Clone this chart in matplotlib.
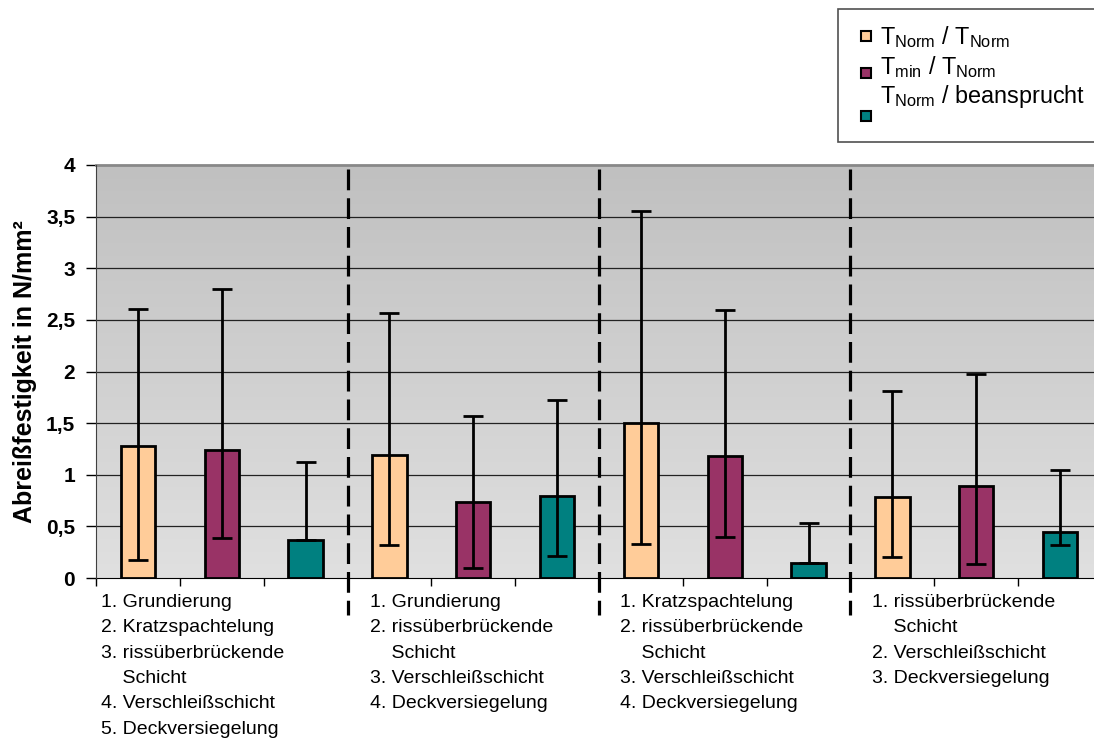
import matplotlib
matplotlib.use("Agg")
import matplotlib.pyplot as plt
import numpy as np
from matplotlib.patches import Rectangle

plt.rcParams['font.family'] = ['Liberation Sans', 'DejaVu Sans']
plt.rcParams['mathtext.fontset'] = 'custom'
plt.rcParams['mathtext.rm'] = 'Liberation Sans'
plt.rcParams['mathtext.it'] = 'Liberation Sans:italic'
plt.rcParams['mathtext.bf'] = 'Liberation Sans:bold'

# ---- data ----
series_names = [r"T$_{\mathrm{Norm}}$ / T$_{\mathrm{Norm}}$",
                r"T$_{\mathrm{min}}$ / T$_{\mathrm{Norm}}$",
                r"T$_{\mathrm{Norm}}$ / beansprucht"]
series_colors = ["#FFCC99", "#993366", "#008080"]
# one bar per category, series cycles 0,1,2 in each group
bar_series = [0, 1, 2, 0, 1, 2, 0, 1, 2, 0, 1, 2]
means = [1.28, 1.24, 0.37, 1.19, 0.74, 0.79, 1.50, 1.18, 0.15, 0.78, 0.89, 0.45]
upper = [2.61, 2.80, 1.12, 2.57, 1.57, 1.72, 3.55, 2.60, 0.53, 1.81, 1.98, 1.05]
lower = [0.17, 0.39, 0.37, 0.32, 0.10, 0.21, 0.33, 0.40, 0.15, 0.20, 0.14, 0.32]
group_labels = [
    "1. Grundierung\n2. Kratzspachtelung\n3. rissüberbrückende\n    Schicht\n4. Verschleißschicht\n5. Deckversiegelung",
    "1. Grundierung\n2. rissüberbrückende\n    Schicht\n3. Verschleißschicht\n4. Deckversiegelung",
    "1. Kratzspachtelung\n2. rissüberbrückende\n    Schicht\n3. Verschleißschicht\n4. Deckversiegelung",
    "1. rissüberbrückende\n    Schicht\n2. Verschleißschicht\n3. Deckversiegelung",
]
yticks = [0, 0.5, 1, 1.5, 2, 2.5, 3, 3.5, 4]
ytick_labels = ["0", "0,5", "1", "1,5", "2", "2,5", "3", "3,5", "4"]
ylabel = "Abreißfestigkeit in N/mm²"

W, H = 1094, 744
fig = plt.figure(figsize=(W / 100, H / 100), dpi=100)
ax_left, ax_right, ax_top, ax_bot = 96, 1102, 165, 578
ax = fig.add_axes([ax_left / W, (H - ax_bot) / H, (ax_right - ax_left) / W, (ax_bot - ax_top) / H])

n = len(means)
x = np.arange(n)
ax.set_xlim(-0.5, n - 0.5)
ax.set_ylim(0, 4)

# gradient background
grad = np.linspace(0, 1, 256).reshape(-1, 1)
ax.imshow(grad, extent=[-0.5, n - 0.5, 0, 4], origin='lower', aspect='auto',
          cmap=matplotlib.colors.LinearSegmentedColormap.from_list('g', ['#e0e0e0', '#c0c0c0']),
          zorder=0)

for yv in yticks[1:-1]:
    ax.axhline(yv, color='#222222', lw=0.9, zorder=1)

cols = [series_colors[s] for s in bar_series]
ax.bar(x, means, width=0.41, color=cols, edgecolor='black', linewidth=2.0, zorder=3)
m = np.array(means)
yerr = np.vstack([m - np.array(lower), np.array(upper) - m])
ax.errorbar(x, m, yerr=yerr, fmt='none', ecolor='black', elinewidth=2.0,
            capsize=7.5, capthick=2.0, zorder=4)

# group separators
for b in [2.5, 5.5, 8.5]:
    ax.plot([b, b], [3.96, -0.36], color='black', lw=2.3, dashes=(6.5, 2.5),
            clip_on=False, zorder=5)

ax.set_yticks(yticks)
ax.set_yticklabels(ytick_labels, fontsize=15, fontweight='bold')
ax.set_xticks(np.arange(-0.5, n, 1))
ax.set_xticklabels([])
ax.tick_params(axis='x', length=6, width=1, color='black', direction='out')
ax.tick_params(axis='y', length=7, width=1, color='black', direction='out', pad=8)
ax.spines['right'].set_visible(False)
ax.spines['top'].set_color('#888888')
ax.spines['top'].set_linewidth(2)
ax.spines['left'].set_color('#404040')
ax.spines['bottom'].set_color('black')
ax.spines['left'].set_zorder(6)

fig.text(25 / W, 1 - 372 / H, ylabel, rotation=90, ha='center', va='center',
         fontsize=18, fontweight='bold')

# group labels
lab_x = [101, 370, 620, 872]
for lx, txt in zip(lab_x, group_labels):
    fig.text(lx / W, 1 - 594 / H, txt, ha='left', va='top', fontsize=14,
             linespacing=1.64)

# legend (manual)
fig.patches.append(Rectangle((838 / W, 1 - 142 / H), (1100 - 838) / W, (142 - 9) / H,
                             transform=fig.transFigure, facecolor='white',
                             edgecolor='#505050', lw=1.2))
leg_marker_y = [36, 73, 116]
leg_text_y = [44, 74, 103]
for i in range(3):
    fig.patches.append(Rectangle((861 / W, 1 - (leg_marker_y[i] + 5) / H), 10 / W, 10 / H,
                                 transform=fig.transFigure, facecolor=series_colors[i],
                                 edgecolor='black', lw=1.5))
    fig.text(880 / W, 1 - leg_text_y[i] / H, series_names[i], ha='left',
             va='baseline', fontsize=16.8)

fig.savefig("out.png", dpi=100)
